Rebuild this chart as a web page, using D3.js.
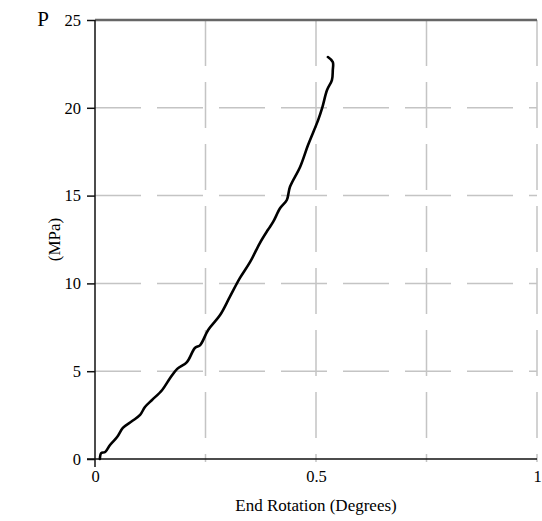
<!DOCTYPE html>
<html>
<head>
<meta charset="utf-8">
<script src="https://cdn.jsdelivr.net/npm/d3@7"></script>
<style>
  body { margin: 0; background: #fff; }
  text { font-family: "Liberation Serif", "Times New Roman", serif; fill: #000; }
</style>
</head>
<body>
<div class="chart-container"></div>
<script>
// end rotation (degrees) vs applied stress P (MPa)
let rotation = [0.011, 0.014, 0.023, 0.034, 0.050, 0.063, 0.084, 0.102, 0.113, 0.129,
  0.152, 0.170, 0.186, 0.208, 0.226, 0.238, 0.256, 0.283, 0.305, 0.328,
  0.351, 0.373, 0.391, 0.403, 0.419, 0.434, 0.441, 0.464, 0.482, 0.505,
  0.514, 0.525, 0.536, 0.538, 0.538, 0.527]
let stress = [0, 0.34, 0.40, 0.80, 1.25, 1.77, 2.16, 2.51, 2.96, 3.36,
  3.93, 4.61, 5.13, 5.52, 6.32, 6.49, 7.35, 8.20, 9.23, 10.31,
  11.22, 12.30, 13.04, 13.50, 14.29, 14.75, 15.49, 16.63, 17.88, 19.31,
  19.99, 21.01, 21.58, 22.15, 22.61, 22.89]
let xTicks = [0, 0.25, 0.5, 0.75, 1]
let xTickLabels = ['0', '', '0.5', '', '1']
let yTicks = [0, 5, 10, 15, 20, 25]

let margin = { top: 20, right: 5, bottom: 62, left: 95 },
    width = 542 - margin.left - margin.right,
    height = 521 - margin.top - margin.bottom

let svg = d3.select('.chart-container')
  .append('svg')
  .attr('width', 542)
  .attr('height', 521)

let g = svg.append('g')
  .attr('transform', `translate(${margin.left},${margin.top})`)

let x = d3.scaleLinear().domain([0, 1]).range([0, width])
let y = d3.scaleLinear().domain([0, 25]).range([height, 0])

// dashed grid
g.selectAll('.vgrid')
  .data(xTicks.slice(1))
  .enter()
  .append('line')
  .attr('x1', d => x(d)).attr('x2', d => x(d))
  .attr('y1', 0).attr('y2', height + 3)
  .attr('stroke', '#c4c4c4')
  .attr('stroke-width', 1.5)
  .attr('stroke-dasharray', '46,16')

g.selectAll('.hgrid')
  .data(yTicks.slice(1, -1))
  .enter()
  .append('line')
  .attr('x1', 0).attr('x2', width)
  .attr('y1', d => y(d)).attr('y2', d => y(d))
  .attr('stroke', '#c4c4c4')
  .attr('stroke-width', 1.5)
  .attr('stroke-dasharray', '46,16')

// top border
g.append('line')
  .attr('x1', 0).attr('x2', width)
  .attr('y1', 0).attr('y2', 0)
  .attr('stroke', '#666')
  .attr('stroke-width', 2.5)

// y axis
let yAxis = g.append('g')
  .call(d3.axisLeft(y).tickValues(yTicks).tickSize(8).tickSizeOuter(0).tickPadding(6))
yAxis.select('.domain').attr('stroke', '#111').attr('stroke-width', 1.5)
  .attr('d', `M0,0V${height + 8}`)
yAxis.selectAll('.tick line').attr('stroke', '#111').attr('stroke-width', 1.5)
yAxis.selectAll('text').style('font-size', '16.5px')

// x axis
let xAxis = g.append('g')
  .attr('transform', `translate(0,${height})`)
  .call(d3.axisBottom(x).tickValues(xTicks).tickFormat((d, i) => xTickLabels[i]).tickSize(0).tickPadding(11))
xAxis.select('.domain').attr('stroke', '#111').attr('stroke-width', 1.5)
  .attr('d', `M-8,0H${width}`)
xAxis.selectAll('text').style('font-size', '16.5px')

// axis titles
svg.append('text')
  .attr('x', 43).attr('y', 26)
  .attr('text-anchor', 'middle')
  .style('font-size', '21px')
  .text('P')

svg.append('text')
  .attr('transform', `translate(60,${margin.top + height / 2}) rotate(-90)`)
  .attr('text-anchor', 'middle')
  .style('font-size', '17px')
  .text('(MPa)')

svg.append('text')
  .attr('x', margin.left + width / 2).attr('y', 511)
  .attr('text-anchor', 'middle')
  .style('font-size', '17px')
  .text('End Rotation (Degrees)')

// load-rotation curve
let line = d3.line()
  .x((d, i) => x(rotation[i]))
  .y(d => y(d))
  .curve(d3.curveCatmullRom)

g.append('path')
  .datum(stress)
  .attr('d', line)
  .attr('fill', 'none')
  .attr('stroke', '#000')
  .attr('stroke-width', 2.6)
  .attr('stroke-linejoin', 'round')
  .attr('stroke-linecap', 'round')
</script>
</body>
</html>
